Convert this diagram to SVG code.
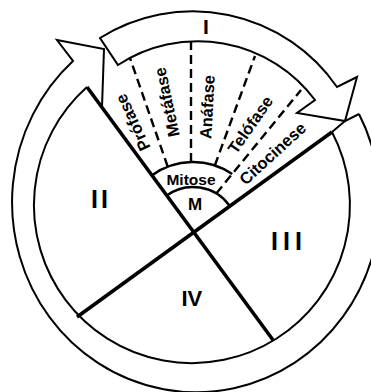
<svg xmlns="http://www.w3.org/2000/svg" width="371" height="392" viewBox="0 0 371 392">
<style>
.ln{fill:none;stroke:#000;stroke-width:2;stroke-linejoin:miter}
.band{fill:#fff;stroke:#000;stroke-width:2;stroke-linejoin:miter}
.thick{fill:none;stroke:#000;stroke-width:3.6;stroke-linecap:butt}
.dash{fill:none;stroke:#000;stroke-width:2.4;stroke-dasharray:9 5}
.arc{fill:none;stroke:#000;stroke-width:2.4}
text{font-family:"Liberation Sans",Arial,sans-serif;font-weight:bold;fill:#000}
.ph{font-size:16.5px}
.num{font-size:25px}
</style>
<rect width="371" height="392" fill="#fff"/>
<g id="cycle-arrow">
<path class="ln" d="M 359,114 A 184 190 0 1 1 73,61 L 57,40 L 104,49 L 102,107"/>
<path class="ln" d="M 332,132 L 345,121 L 359,114"/>
</g>
<g id="cell">
<path class="ln" d="M 332,132 A 158 158 0 1 1 87,87"/>
</g>
<g id="phase-I">
<path class="band" d="M 100,38 A 175 175 0 0 1 337,87 L 357,77 L 345,121 L 297,113 L 315,100 A 146 146 0 0 0 118,65 Z"/>
<text x="206" y="34" font-size="21" text-anchor="middle">I</text>
</g>
<g id="connectors">
<path class="thick" d="M 87,87 L 273,340"/>
<path class="thick" d="M 77,317 L 332,132"/>
<path class="dash" d="M 167.7,166.7 L 130,58"/>
<path class="dash" d="M 191,162 L 191,42"/>
<path class="dash" d="M 214.8,165.5 L 255,56"/>
<path class="dash" d="M 216.3,193.4 L 301,90"/>
</g>
<g id="mitosis">
<path class="arc" d="M 151.7,175.5 A 70 70 0 0 1 232.2,174"/>
<path class="arc" d="M 166.4,195.7 A 45 45 0 0 1 229.5,205.7"/>
<text x="191" y="184.5" font-size="15.5" text-anchor="middle">Mitose</text>
<text x="195" y="210" font-size="17" text-anchor="middle">M</text>
</g>
<g id="phases">
<text class="ph" text-anchor="middle" transform="translate(138,120) rotate(-115)">Prófase</text>
<text class="ph" text-anchor="middle" transform="translate(172.4,101) rotate(-102)">Metáfase</text>
<text class="ph" text-anchor="middle" transform="translate(213,107.3) rotate(-87)">Anáfase</text>
<text class="ph" text-anchor="middle" transform="translate(255,128) rotate(-55)">Telófase</text>
<text class="ph" text-anchor="middle" transform="translate(276.4,157.7) rotate(-42.5)">Citocinese</text>
</g>
<g id="stage-II"><text class="num" x="91" y="207.5" letter-spacing="3">II</text></g>
<g id="stage-III"><text class="num" x="271" y="249.5" letter-spacing="5">III</text></g>
<g id="stage-IV"><text x="181.5" y="306" font-size="22">IV</text></g>
</svg>
